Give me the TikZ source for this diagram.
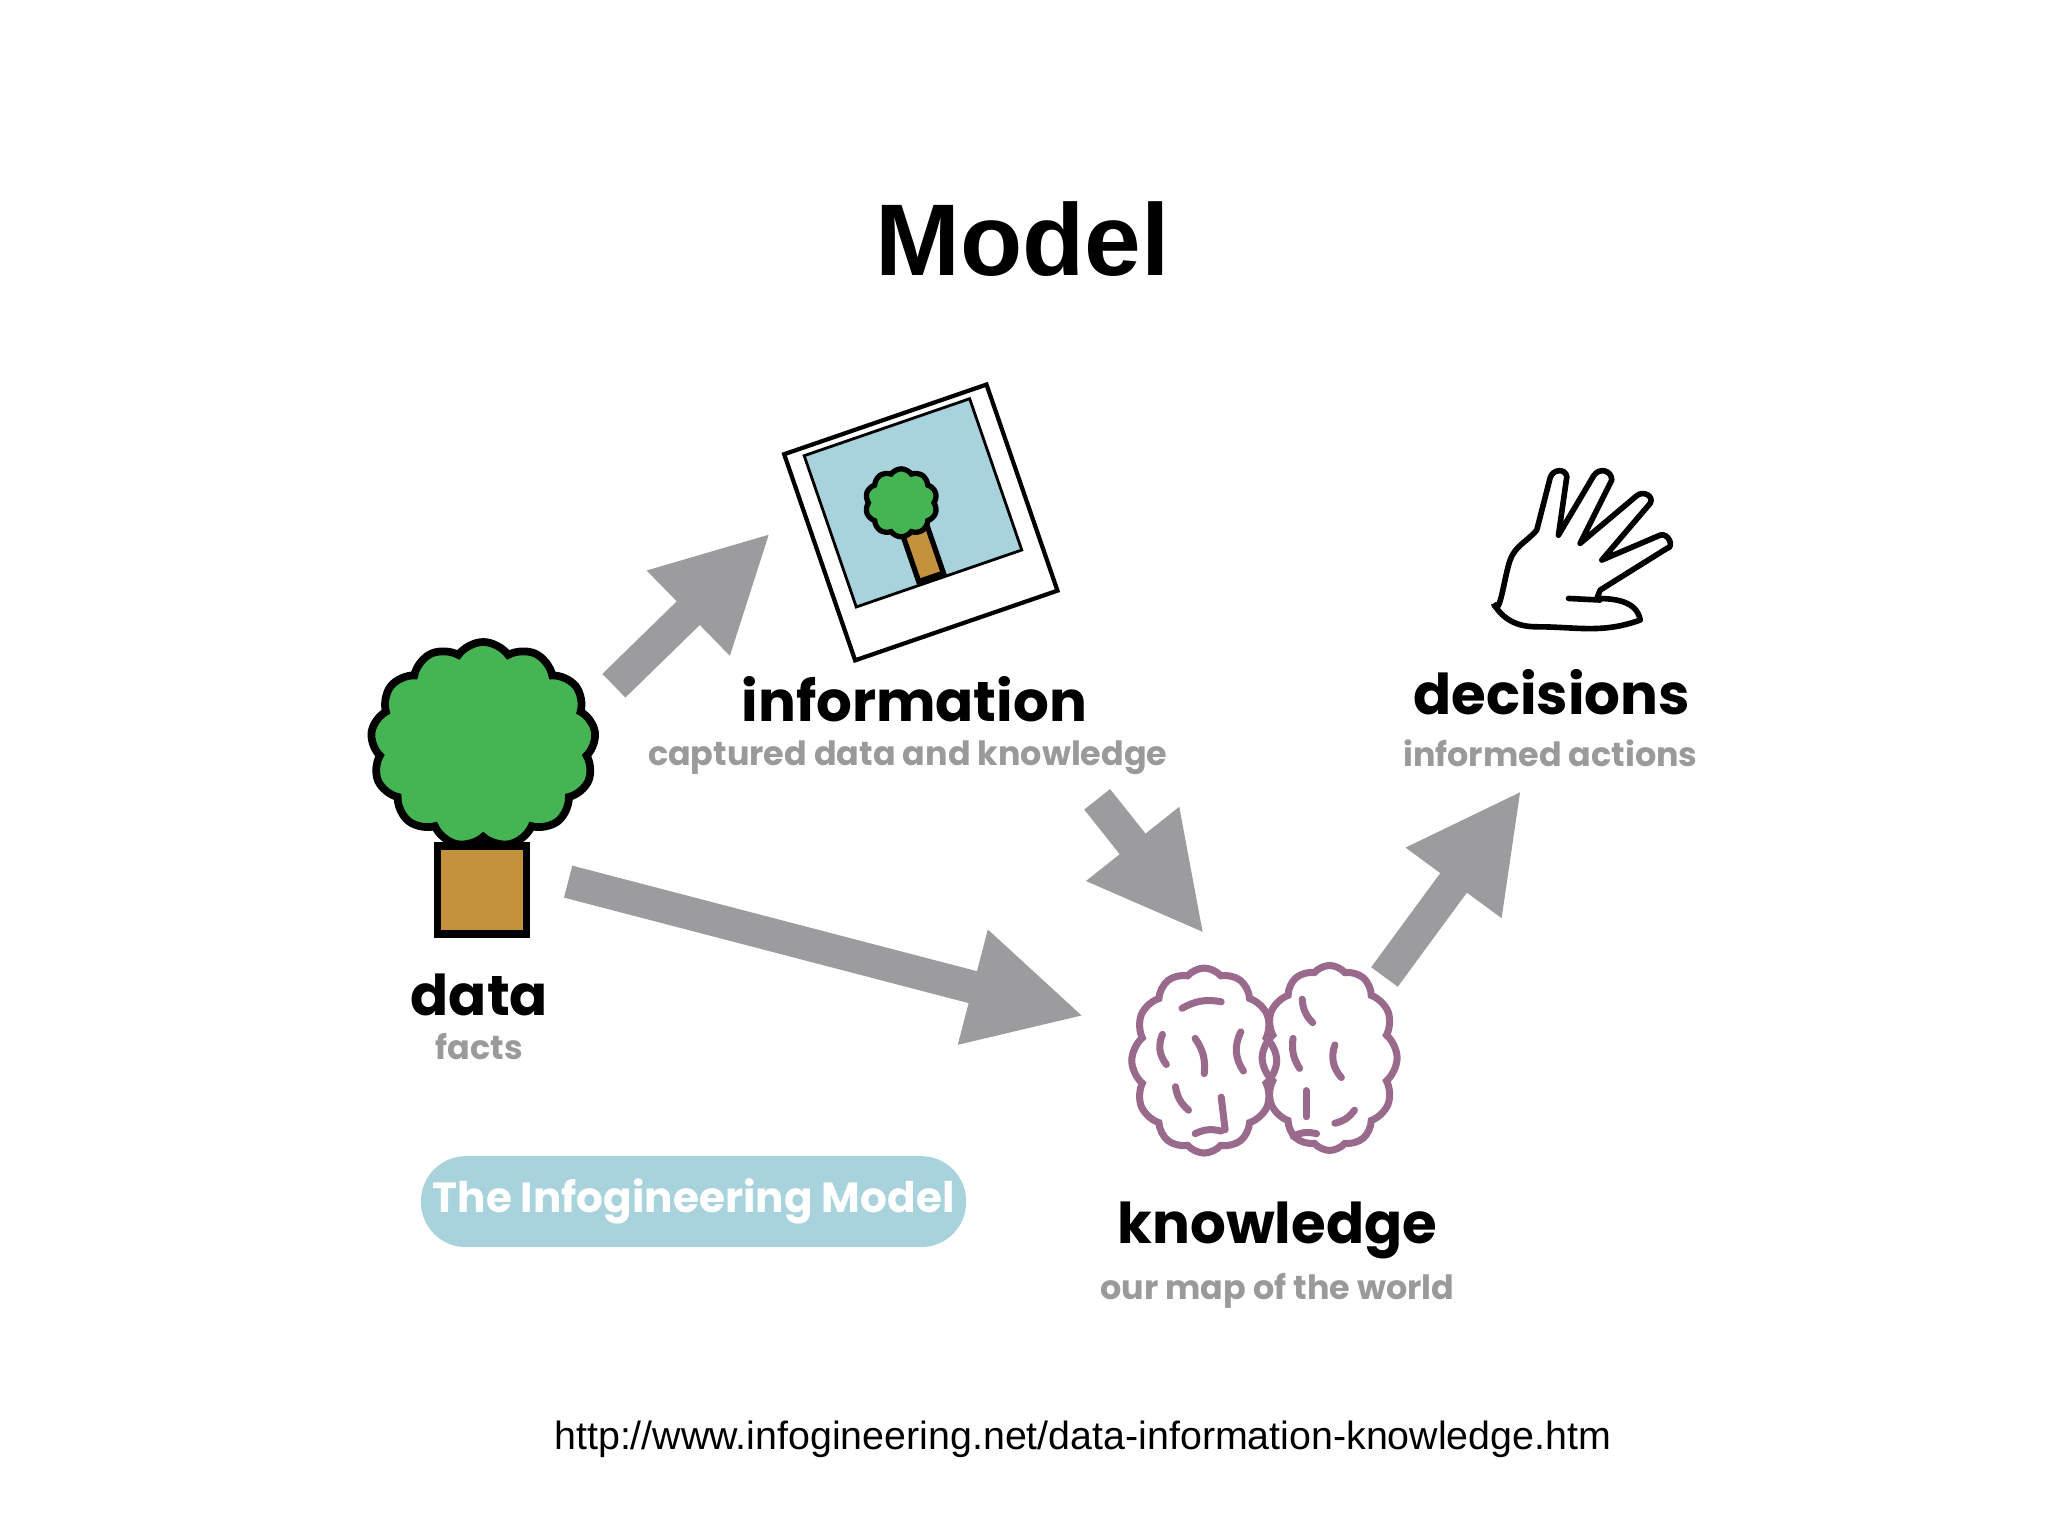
\documentclass[tikz,border=0pt]{standalone}
\usepackage{fontspec}
\setmainfont{Liberation Sans}
\newfontfamily\pop{Poppins}
\usetikzlibrary{arrows.meta,shapes.symbols,calc}
\definecolor{arrgray}{HTML}{9C9C9E}
\definecolor{subgray}{HTML}{9A9A9A}
\definecolor{treegreen}{HTML}{45B553}
\definecolor{trunk}{HTML}{C4913C}
\definecolor{photoblue}{HTML}{A8D3DC}
\definecolor{brainc}{HTML}{9A6A8C}
\tikzset{
  bigarrow/.style={draw=arrgray, line width=0.33cm, -{Triangle[length=1.15cm,width=1.1cm]}},
  lbl/.style={font=\pop\bfseries\fontsize{16}{18}\selectfont, text=black},
  sub/.style={font=\pop\bfseries\fontsize{9.5}{11}\selectfont, text=subgray},
  crown/.style={cloud, cloud puffs=13, cloud puff arc=110, aspect=1.05, draw=black, line width=2.2pt, fill=treegreen},
  lobe/.style={cloud, cloud puffs=12, cloud puff arc=100, draw=brainc, line width=2pt},
  squig/.style={draw=brainc, line width=2pt, line cap=round}
}
\begin{document}
\begin{tikzpicture}[x=0.01306cm,y=-0.01306cm]
\useasboundingbox (0,0) rectangle (1568,1176);
\fill[white] (0,0) rectangle (1568,1176);
\node (title) at (783,183) {\fontsize{29}{34}\selectfont\bfseries Model};
\node (url) at (829,1102) {\fontsize{11.2}{13}\selectfont http://www.infogineering.net/data-information-knowledge.htm};
% tree
\draw[line width=2.2pt, fill=trunk] (335,648) rectangle (403,715);
\node[crown, minimum width=2.25cm, minimum height=2.05cm] (tree) at (370,570) {};
\node[lbl] (data) at (367,762) {data};
\node[sub] (facts) at (367,801) {facts};
% polaroid
\node[draw=black, line width=1.2pt, fill=white, minimum width=2.14cm, minimum height=2.18cm, rotate=19] (photo) at (705,400) {};
\node[draw=black, line width=0.8pt, fill=photoblue, minimum width=1.75cm, minimum height=1.6cm, rotate=19] (pic) at (699,385) {};
\draw[line width=1.5pt, fill=trunk, rotate around={19:(707,425)}] (697,405) rectangle (717,443);
\node[crown, cloud puffs=10, line width=1.5pt, minimum width=0.72cm, minimum height=0.68cm] (smalltree) at (690,385) {};
\node[lbl] (info) at (700,535) {information};
\node[sub] (infosub) at (695,580) {captured data and knowledge};
% hand
\draw[line width=1.6pt, line join=round]
 (1143.5,462) to[out=-70,in=-110] (1156.2,428.8) to[out=70,in=-130] (1176.6,405.8)
 -- (1186.8,366) to[out=75,in=100,looseness=1.4] (1199.6,365)
 -- (1193.2,409.7) -- (1220,364.5) to[out=60,in=90,looseness=1.4] (1234,367.6)
 -- (1209.8,416) -- (1253.2,379.5) to[out=40,in=60,looseness=1.4] (1263.4,385.4)
 -- (1226.4,428.8) -- (1271.1,409.7) to[out=20,in=10,looseness=1.4] (1276.2,419.9)
 -- (1225.1,451.8) -- (1222.6,458.2) to[out=0,in=100] (1255.8,474.7)
 to[out=-160,in=0] (1176.6,479.9) to[out=180,in=-60] (1143.5,462);
\draw[line width=1.6pt, line cap=round] (1200.9,458.2) -- (1225.1,459.4);
\node[lbl] (dec) at (1188,530) {decisions};
\node[sub] (decsub) at (1187,577) {informed actions};
% brain
\node[lobe, minimum width=1.45cm, minimum height=1.85cm] (lbrain) at (922,812) {};
\node[lobe, minimum width=1.35cm, minimum height=1.85cm] (rbrain) at (1018,810) {};
\draw[squig] (905,772) to[bend left=20] (935,767);
\draw[squig] (890,792) to[bend right=30] (893,815);
\draw[squig] (915,795) to[bend left=20] (922,822);
\draw[squig] (950,790) to[bend right=30] (952,820);
\draw[squig] (900,832) to[bend right=20] (910,850);
\draw[squig] (935,840) -- (938,865);
\draw[squig] (915,868) to[bend left=20] (935,866);
\draw[squig] (997,765) to[bend right=20] (1005,783);
\draw[squig] (990,795) to[bend right=20] (995,818);
\draw[squig] (1022,800) to[bend right=30] (1027,825);
\draw[squig] (1000,835) -- (1000,855);
\draw[squig] (1022,860) to[bend right=20] (1037,850);
\draw[squig] (990,870) to[bend left=20] (1008,868);
\node[lbl] (know) at (978,942) {knowledge};
\node[sub] (knowsub) at (978,988) {our map of the world};
% pill
\node[fill=photoblue, rounded corners=0.45cm, minimum width=5.42cm, minimum height=0.91cm, text=white, font=\pop\bfseries\fontsize{12}{14}\selectfont] (pill) at (531,920) {The Infogineering Model};
% arrows
\coordinate (a1s) at (470,525); \coordinate (a1e) at (590,408);
\coordinate (a2s) at (840,612); \coordinate (a2e) at (922,715);
\coordinate (a3s) at (435,675); \coordinate (a3e) at (830,778);
\coordinate (a4s) at (1060,748); \coordinate (a4e) at (1165,605);
\draw[bigarrow] (a1s) -- (a1e);
\draw[bigarrow] (a2s) -- (a2e);
\draw[bigarrow] (a3s) -- (a3e);
\draw[bigarrow] (a4s) -- (a4e);
\end{tikzpicture}
\end{document}
